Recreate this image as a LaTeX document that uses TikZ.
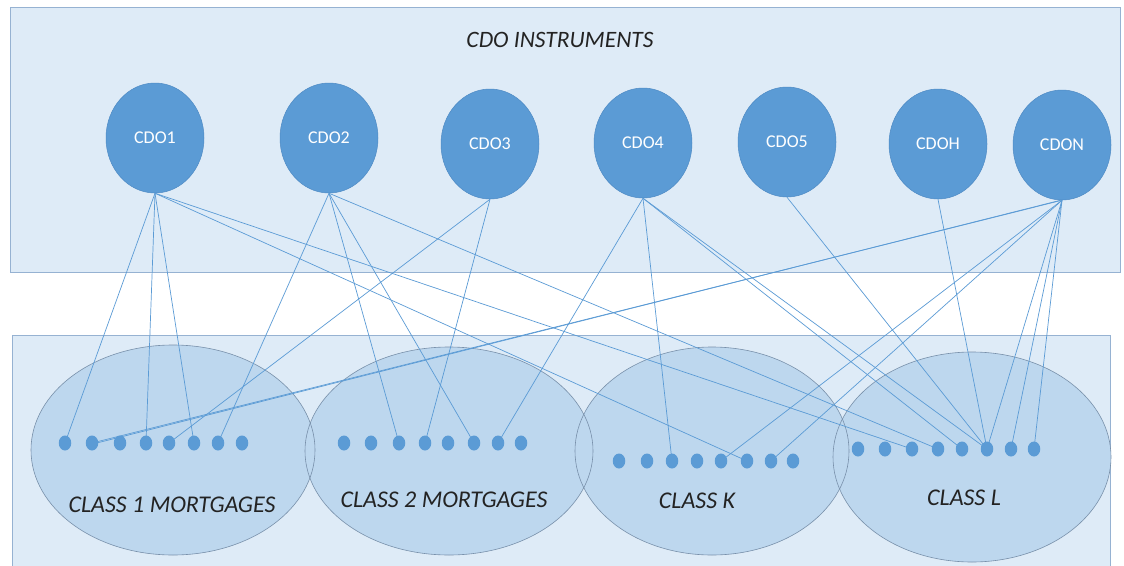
\documentclass[tikz,border=0pt]{standalone}
\usepackage{fontspec}
\setmainfont{Carlito}
\usetikzlibrary{shapes.geometric}
\definecolor{panelfill}{RGB}{222,235,247}
\definecolor{panelline}{RGB}{150,178,210}
\definecolor{poolfill}{RGB}{189,215,238}
\definecolor{poolline}{RGB}{120,144,170}
\definecolor{accent}{RGB}{91,155,213}
\definecolor{accentdark}{RGB}{78,138,196}
\definecolor{ink}{RGB}{35,35,35}
\begin{document}
\begin{tikzpicture}[x=1pt,y=-1pt,
  panel/.style={draw=panelline, fill=panelfill, line width=0.8pt},
  cdo/.style={ellipse, fill=accent, draw=accentdark, line width=0.5pt,
    minimum width=98pt, minimum height=110pt, inner sep=0pt, text=white,
    font=\fontsize{18}{20}\selectfont},
  pool/.style={ellipse, fill=poolfill, inner sep=0pt},
  poolrim/.style={draw=poolline, line width=0.6pt},
  loan/.style={ellipse, fill=accent, minimum width=12.5pt, minimum height=15pt, inner sep=0pt},
  link/.style={draw=accent, line width=0.7pt},
  caption/.style={font=\itshape\fontsize{24}{27}\selectfont, text=ink}]
\useasboundingbox (0,0) rectangle (1124,565);
\fill[white] (0,0) rectangle (1124,565);

% instrument panel and collateral panel
\draw[panel] (10,7) rectangle (1120,272);
\draw[panel] (12,335) rectangle (1110,600);

% mortgage classes: fills first, then every rim on top
\node[pool, minimum width=284pt, minimum height=210pt] (c1) at (173,450) {};
\node[pool, minimum width=288pt, minimum height=208pt] (c2) at (449,451) {};
\node[pool, minimum width=274pt, minimum height=208pt] (ck) at (712,451) {};
\node[pool, minimum width=278pt, minimum height=210pt] (cl) at (972,457) {};
\draw[poolrim] (c1.center) ellipse [x radius=142, y radius=105];
\draw[poolrim] (c2.center) ellipse [x radius=144, y radius=104];
\draw[poolrim] (ck.center) ellipse [x radius=137, y radius=104];
\draw[poolrim] (cl.center) ellipse [x radius=139, y radius=105];

\node[caption] (t1) at (172,505) {CLASS 1 MORTGAGES};
\node[caption] (t2) at (444,500) {CLASS 2 MORTGAGES};
\node[caption] (tk) at (697,501) {CLASS K};
\node[caption] (tl) at (964,498) {CLASS L};

% positions of the individual mortgages
\foreach \x [count=\i] in {65,92,120,146,169,194,218,242}
  \coordinate (a\i) at (\x,443);
\foreach \x [count=\i] in {344,371,399,425,448,474,498,521}
  \coordinate (b\i) at (\x,443);
\foreach \x [count=\i] in {619,647,672,697,721,747,771,793}
  \coordinate (k\i) at (\x,461);
\foreach \x [count=\i] in {858,885,912,938,962,987,1011,1034}
  \coordinate (l\i) at (\x,449);

% instruments
\node[caption, font=\itshape\fontsize{23.5}{26}\selectfont] (title) at (560,40) {CDO INSTRUMENTS};
\node[cdo] (cdo1) at (155,138) {CDO1};
\node[cdo] (cdo2) at (329,138) {CDO2};
\node[cdo] (cdo3) at (490,144) {CDO3};
\node[cdo] (cdo4) at (643,143) {CDO4};
\node[cdo] (cdo5) at (787,142) {CDO5};
\node[cdo] (cdoh) at (938,144) {CDOH};
\node[cdo] (cdon) at (1062,145) {CDON};

% which instrument holds which mortgage
\foreach \s/\t in {cdo1/a1, cdo1/a4, cdo1/a6, cdo1/k6, cdo1/l3,
                   cdo2/a7, cdo2/b3, cdo2/b6, cdo2/l4,
                   cdo3/a5, cdo3/b4,
                   cdo4/b7, cdo4/k3, cdo4/l5, cdo4/l6,
                   cdo5/l6, cdoh/l6,
                   cdon/k5, cdon/k7, cdon/l6, cdon/l7, cdon/l8, cdon/a2}
  \draw[link] (\s.south) -- (\t);
\draw[link] ([xshift=-1.5pt]cdon.south) -- ([yshift=-1.2pt]a2);

% mortgages drawn over the link ends
\foreach \p in {a,b,k,l}
  \foreach \i in {1,...,8}
    \node[loan] (m\p\i) at (\p\i) {};
\end{tikzpicture}
\end{document}
